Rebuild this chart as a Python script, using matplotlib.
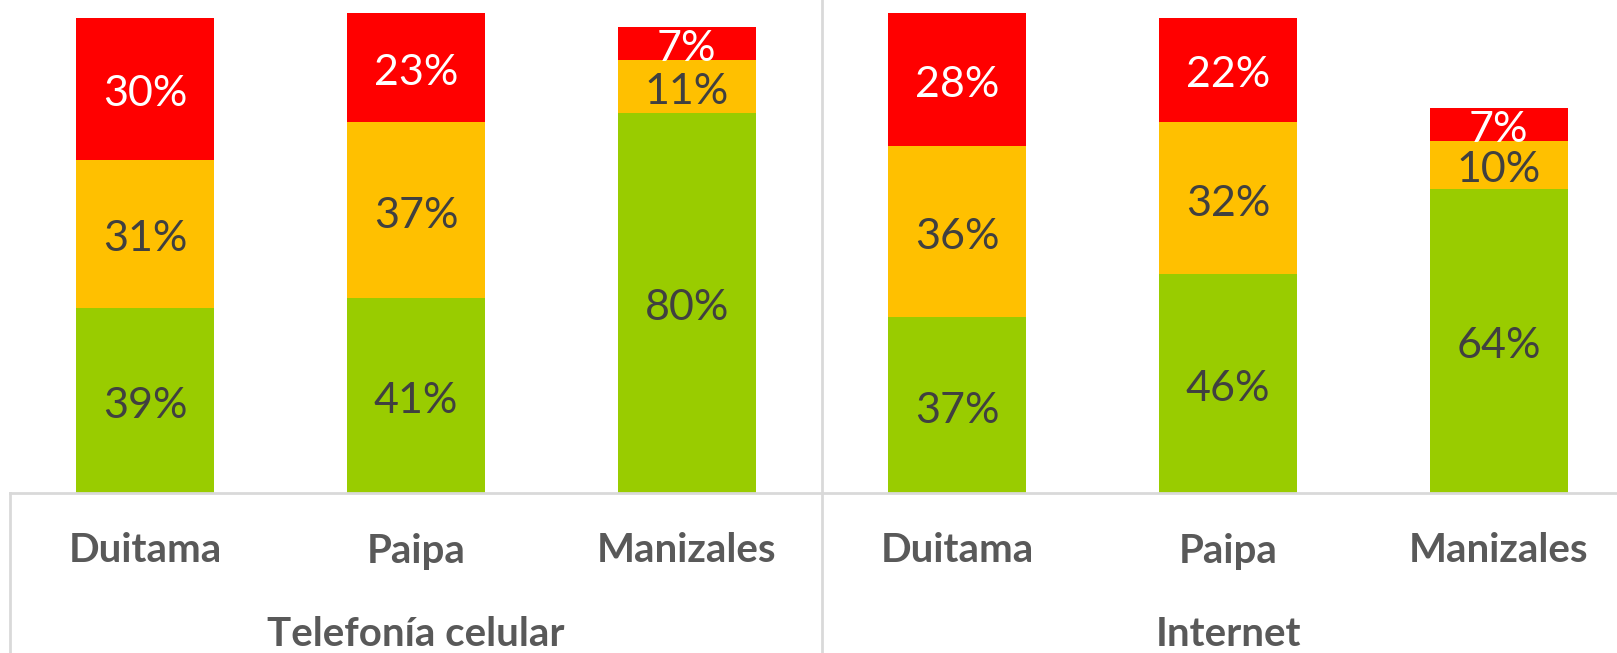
import matplotlib
matplotlib.use("Agg")
import matplotlib.pyplot as plt
from matplotlib.lines import Line2D

# ---- data ----
groups = ["Telefonía celular", "Internet"]
cities = ["Duitama", "Paipa", "Manizales"]
bajo = [39, 41, 80, 37, 46, 64]      # green
medio = [31, 37, 11, 36, 32, 10]     # yellow
alto = [30, 23, 7, 28, 22, 7]        # red

colors = ["#99CC00", "#FFC000", "#FF0000"]
label_colors = ["#404040", "#404040", "#FFFFFF"]

W, H = 1617, 653
DPI = 100
plt.rcParams['font.family'] = ['Lato', 'DejaVu Sans']

fig = plt.figure(figsize=(W / DPI, H / DPI), dpi=DPI)
base_px = 493          # baseline y from top
left_px = 10
ax_w_px = 1624
ax = fig.add_axes([left_px / W, (H - base_px) / H, ax_w_px / W, base_px / H])
px_per_pct = 4.755
ax.set_ylim(0, base_px / px_per_pct)
ax.set_xlim(-0.5, 5.5)
ax.axis("off")

x = list(range(6))
bottoms = [0] * 6
shift = 5.5 / px_per_pct
for series, col, lc in zip([bajo, medio, alto], colors, label_colors):
    ax.bar(x, series, width=0.51, bottom=bottoms, color=col, linewidth=0)
    for xi, b, v in zip(x, bottoms, series):
        ax.text(xi, b + v / 2 - shift, f"{v}%", ha="center", va="center",
                fontsize=31, color=lc)
    bottoms = [b + v for b, v in zip(bottoms, series)]

# category labels
tr = ax.get_xaxis_transform()
ax_h = base_px
for i in range(6):
    ax.text(i, -(551 - base_px) / ax_h, cities[i % 3], transform=tr,
            ha="center", va="center", fontsize=29, fontweight="bold",
            color="#595959", clip_on=False)
for g, name in enumerate(groups):
    ax.text(1 + 3 * g, -(634 - base_px) / ax_h, name, transform=tr,
            ha="center", va="center", fontsize=29, fontweight="bold",
            color="#595959", clip_on=False)

# frame lines
lc_ = "#D9D9D9"
fig.add_artist(Line2D([left_px / W, 1], [(H - base_px) / H] * 2,
                      color=lc_, lw=2, transform=fig.transFigure))
fig.add_artist(Line2D([left_px / W] * 2, [0, (H - base_px) / H],
                      color=lc_, lw=2, transform=fig.transFigure))
fig.add_artist(Line2D([822 / W] * 2, [0, 1],
                      color=lc_, lw=2, transform=fig.transFigure))

fig.savefig("out.png", dpi=DPI, facecolor="white")
